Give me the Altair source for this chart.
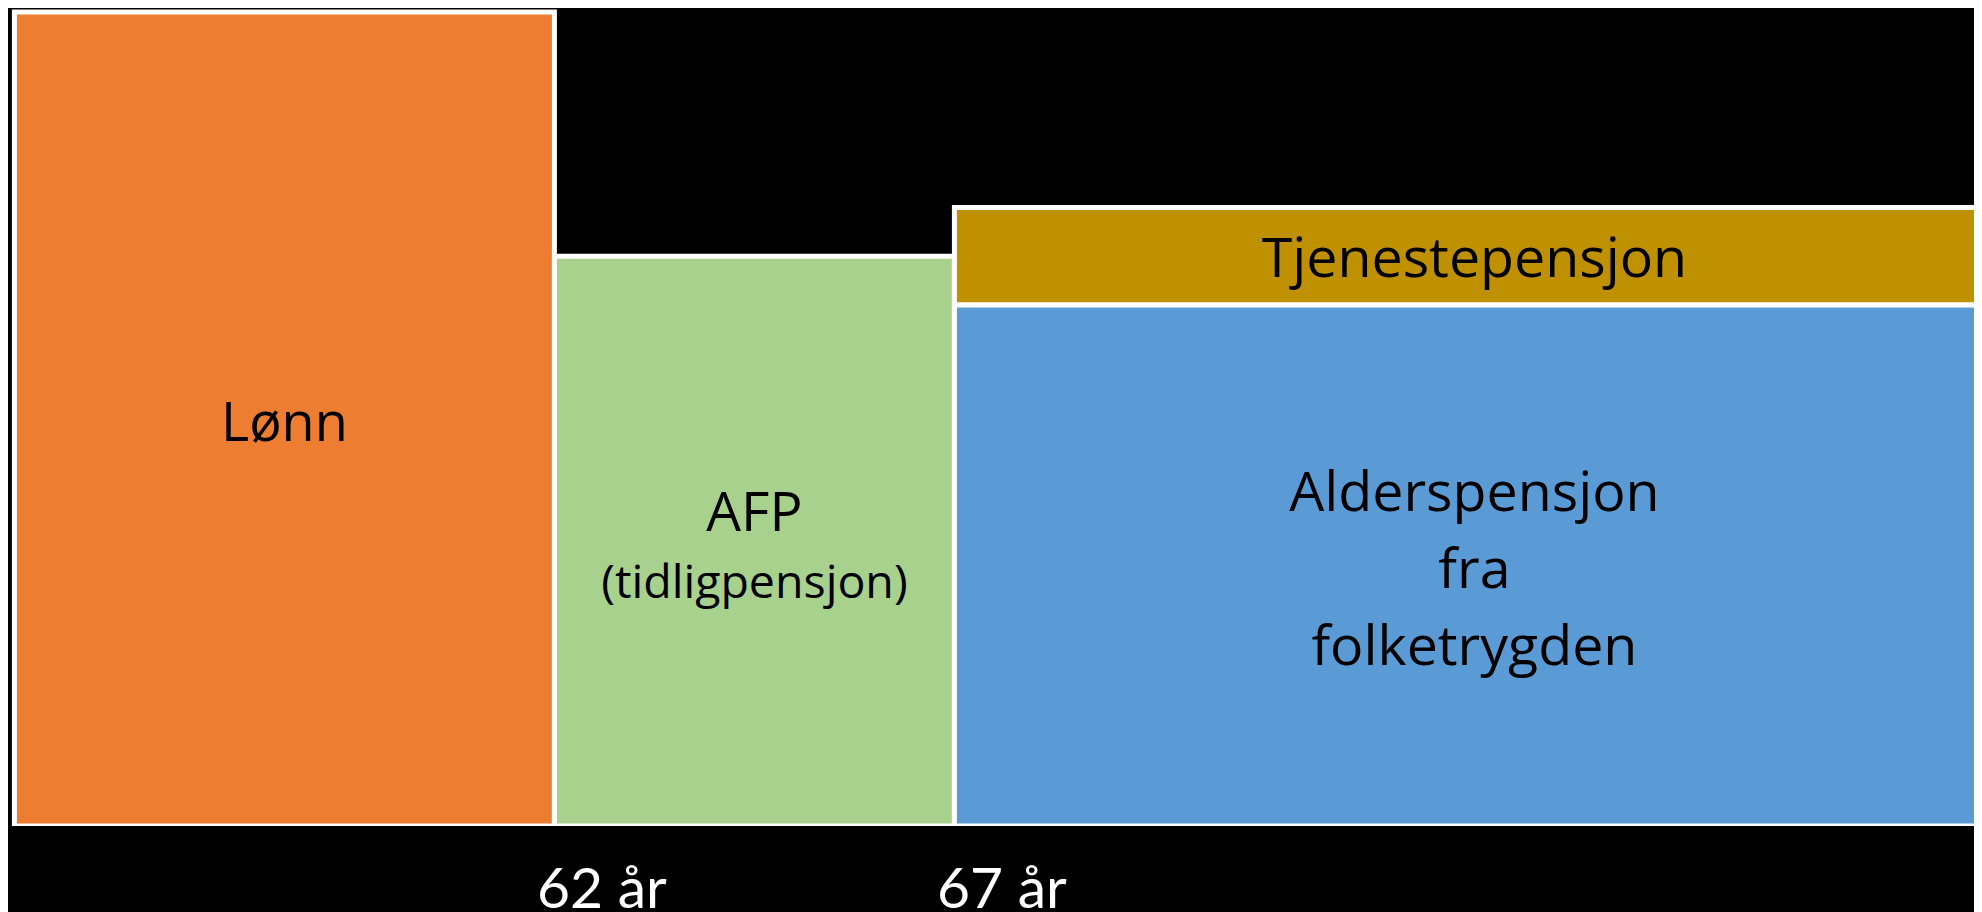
import altair as alt
import pandas as pd

# Blocks of income over age (relative level, Lønn = 100)
names = ["Lønn", "AFP", "Tjenestepensjon", "Alderspensjon"]
texts = ["Lønn", "AFP", "Tjenestepensjon", "Alderspensjon\nfra\nfolketrygden"]
age_from = [55.25, 62, 67, 67]
age_to = [62, 67, 80, 80]
level_from = [0, 0, 64, 0]
level_to = [100, 70, 76, 64]
colors = ["#ED7D31", "#A9D18E", "#BF9000", "#5B9BD5"]
tick_ages = [62, 67]
afp_sub = "(tidligpensjon)"

df = pd.DataFrame({
    "name": names,
    "text": texts,
    "x0": age_from,
    "x1": age_to,
    "y0": level_from,
    "y1": level_to,
})
df["sub"] = [afp_sub if n == "AFP" else "" for n in names]

FONT = "Open Sans"
AXIS_FONT = "Lato"

x_scale = alt.Scale(domain=[55.17, 79.745], nice=False, zero=False)
y_scale = alt.Scale(domain=[0, 100.5], nice=False, zero=True)

base = alt.Chart(df)

rects = base.mark_rect(stroke="white", strokeWidth=5, clip=True).encode(
    x=alt.X(
        "x0:Q",
        scale=x_scale,
        axis=alt.Axis(
            values=tick_ages,
            labelExpr="datum.value + ' år'",
            title=None,
            domain=False,
            ticks=False,
            tickSize=0,
            grid=False,
            labelPadding=81,
            labelBaseline="alphabetic",
            labelFont=AXIS_FONT,
            labelFontSize=57,
            labelColor="white",
            labelOffset=47,
            labelFlush=False,
            labelOverlap=False,
            labelBound=False,
        ),
    ),
    x2="x1:Q",
    y=alt.Y("y0:Q", scale=y_scale, axis=None),
    y2="y1:Q",
    color=alt.Color("name:N", scale=alt.Scale(domain=names, range=colors), legend=None),
)

centered = base.transform_calculate(
    xc="(datum.x0 + datum.x1) / 2", yc="(datum.y0 + datum.y1) / 2"
)

def label_layer(name, dy, size=54, field="text", line_height=None):
    kw = dict(font=FONT, fontSize=size, color="black", align="center",
              baseline="alphabetic", dy=dy, lineBreak="\n")
    if line_height is not None:
        kw["lineHeight"] = line_height
    return centered.transform_filter(alt.datum.name == name).mark_text(**kw).encode(
        x=alt.X("xc:Q", scale=x_scale),
        y=alt.Y("yc:Q", scale=y_scale),
        text=f"{field}:N",
    )

layers = [
    rects,
    label_layer("Lønn", 22),
    label_layer("AFP", -10, size=55),
    label_layer("AFP", 57, size=46.5, field="sub"),
    label_layer("Tjenestepensjon", 21, size=55.5),
    label_layer("Alderspensjon", -55, size=55.5, line_height=77),
]

chart = alt.layer(*layers).properties(
    width=1966,
    height=818,
    autosize=alt.AutoSizeParams(type="none"),
    padding={"left": 0, "top": 0, "right": 0, "bottom": 86},
).configure(background="#000000").configure_view(strokeWidth=0)

chart.save("out.html", embed_options={"renderer": "svg", "actions": False})
